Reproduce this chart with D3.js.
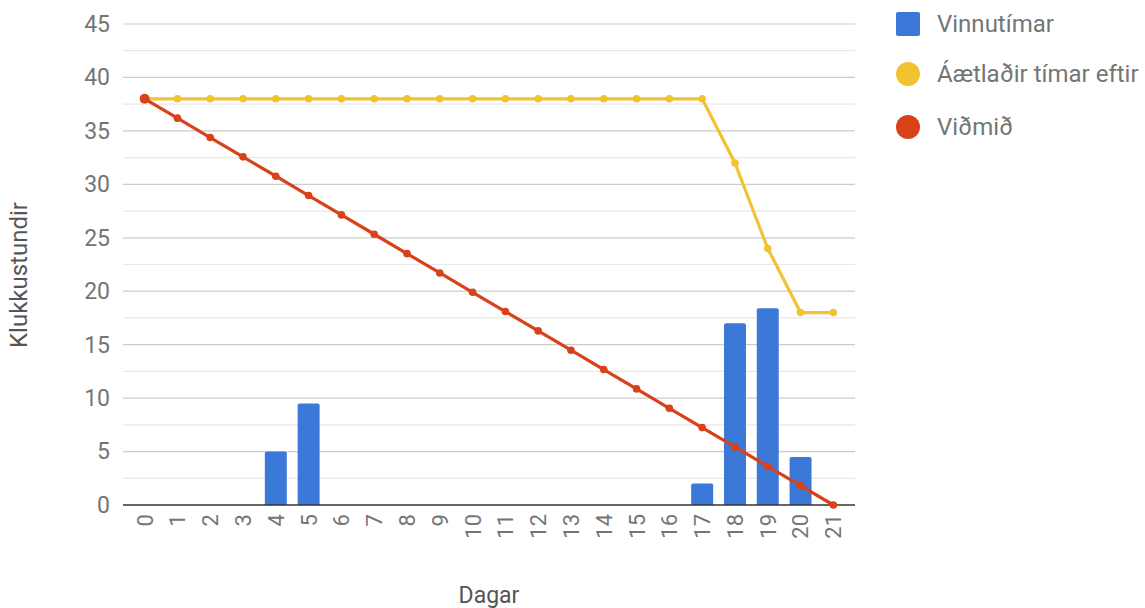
<!DOCTYPE html>
<html><head><meta charset="utf-8">
<script src="https://cdn.jsdelivr.net/npm/d3@7"></script>
<style>body{margin:0;background:#fff}svg{display:block;font-family:Roboto,"Noto Sans",sans-serif}</style>
</head><body>
<svg id="c" width="1145" height="608"></svg>
<script>
const days = ["0","1","2","3","4","5","6","7","8","9","10","11","12","13","14","15","16","17","18","19","20","21"];
const vinnutimar = [0,0,0,0,5,9.5,0,0,0,0,0,0,0,0,0,0,0,2,17,18.4,4.5,0];
const aaetladir = [38,38,38,38,38,38,38,38,38,38,38,38,38,38,38,38,38,38,32,24,18,18];
const vidmid = [38,36.19,34.38,32.57,30.76,28.95,27.14,25.33,23.52,21.71,19.9,18.1,16.29,14.48,12.67,10.86,9.05,7.24,5.43,3.62,1.81,0];
const yTicks = [0,5,10,15,20,25,30,35,40,45];
const yMinor = [2.5,7.5,12.5,17.5,22.5,27.5,32.5,37.5,42.5];
const seriesNames = ["Vinnutímar","Áætlaðir tímar eftir","Viðmið"];
const colors = ["#3c78d8","#f1c232","#d9411a"];

const svg = d3.select("#c");
const L = 123, R = 855, T = 24, B = 505;
const x = d3.scaleBand().domain(days).range([L, R]).paddingInner(0.33).paddingOuter(0.325);
const y = d3.scaleLinear().domain([0,45]).range([B, T]);
const cx = d => x(d) + x.bandwidth()/2;

// minor grid
svg.append("g").selectAll("line").data(yMinor).join("line")
  .attr("x1", L).attr("x2", R).attr("y1", d=>y(d)).attr("y2", d=>y(d))
  .attr("stroke", "#e8e8e8").attr("stroke-width", 1.2);
// major grid
svg.append("g").selectAll("line").data(yTicks.filter(d=>d>0)).join("line")
  .attr("x1", L).attr("x2", R).attr("y1", d=>y(d)).attr("y2", d=>y(d))
  .attr("stroke", "#cccccc").attr("stroke-width", 1.2);

// y axis labels
const yAxis = svg.append("g").attr("transform", `translate(${L},0)`)
  .call(d3.axisLeft(y).tickValues(yTicks).tickSize(0).tickPadding(13));
yAxis.select(".domain").remove();
yAxis.selectAll("text").attr("font-size", 23).attr("fill", "#757575").attr("font-family", "Roboto");

// bars
svg.append("g").selectAll("path").data(days.map((d,i)=>({d, v: vinnutimar[i]})).filter(o=>o.v>0)).join("path")
  .attr("fill", colors[0])
  .attr("d", o => {
    const x0 = x(o.d), w = x.bandwidth(), y0 = y(o.v), y1 = y(0), r = 2;
    return `M${x0},${y1}V${y0+r}Q${x0},${y0} ${x0+r},${y0}H${x0+w-r}Q${x0+w},${y0} ${x0+w},${y0+r}V${y1}Z`;
  });

// baseline
svg.append("line").attr("x1", L).attr("x2", R).attr("y1", y(0)).attr("y2", y(0))
  .attr("stroke", "#333").attr("stroke-width", 1.6);

// x axis labels
const xAxis = svg.append("g").attr("transform", `translate(0,${B})`)
  .call(d3.axisBottom(x).tickSize(0).tickPadding(0));
xAxis.select(".domain").remove();
xAxis.selectAll("text").attr("font-size", 22).attr("fill", "#757575").attr("font-family", "Roboto")
  .attr("text-anchor", "end").attr("dy", "0.36em")
  .attr("transform", "translate(0,9) rotate(-90)").attr("x", 0).attr("y", 0);

// lines
const line = arr => d3.line().x((v,i)=>cx(days[i])).y(v=>y(v))(arr);
[[aaetladir, colors[1]], [vidmid, colors[2]]].forEach(([arr, col]) => {
  const g = svg.append("g");
  g.append("path").attr("d", line(arr)).attr("fill","none").attr("stroke", col).attr("stroke-width", 3.2).attr("stroke-linejoin","round");
  g.selectAll("circle").data(arr).join("circle")
    .attr("cx", (v,i)=>cx(days[i])).attr("cy", v=>y(v)).attr("r", (v,i)=> (col===colors[2] && i===0) ? 5 : 3.8).attr("fill", col);
});

// axis titles
svg.append("text").attr("x", 489).attr("y", 603).attr("text-anchor","middle")
  .attr("font-size", 23).attr("fill", "#555").text("Dagar");
svg.append("text").attr("transform", "translate(27,275) rotate(-90)").attr("text-anchor","middle")
  .attr("font-size", 24).attr("fill", "#555").text("Klukkustundir");

// legend
const lg = svg.append("g");
const rowY = [24, 74, 127];
seriesNames.forEach((n,i) => {
  if (i === 0) lg.append("rect").attr("x", 896).attr("y", rowY[i]-12).attr("width", 24).attr("height", 24).attr("rx", 2).attr("fill", colors[i]);
  else lg.append("circle").attr("cx", 908).attr("cy", rowY[i]).attr("r", 12).attr("fill", colors[i]);
  lg.append("text").attr("x", 937).attr("y", rowY[i]).attr("dy", "0.35em").attr("font-size", 24).attr("fill", "#757575").text(n);
});
</script>
</body></html>
